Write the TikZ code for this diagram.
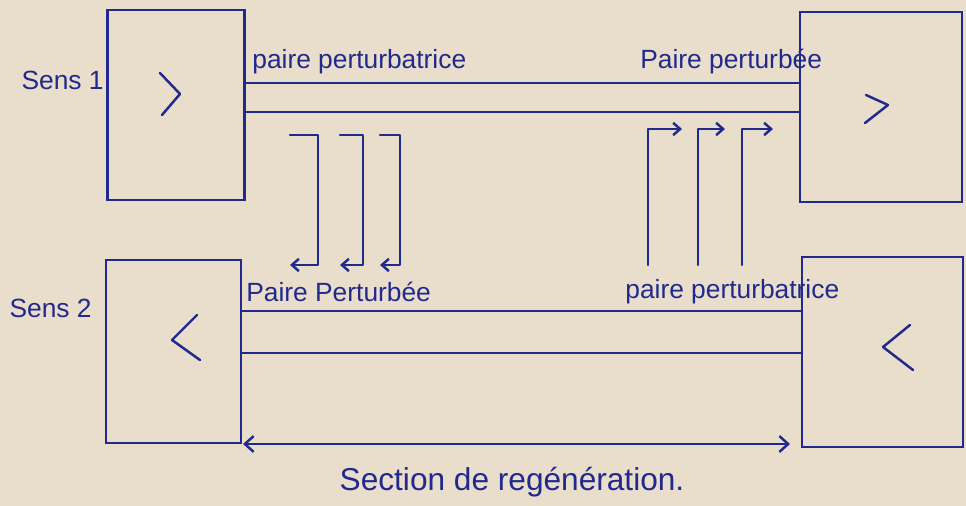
\documentclass[tikz,border=0pt]{standalone}
\usepackage{fontspec}
\setmainfont{Liberation Sans}
\usepackage{xcolor}
\definecolor{paper}{HTML}{E9DDCC}
\definecolor{ink}{HTML}{212A8C}
\usepackage{tikz}
\usetikzlibrary{arrows.meta, positioning, calc}

\begin{document}
\begin{tikzpicture}[
    x=0.02cm, y=-0.02cm,
    rep/.style={rectangle, draw=ink, line width=1.4pt, inner sep=0pt, outer sep=0pt,
        minimum height=3.8cm},
    lbl/.style={text=ink, font=\fontsize{15}{17}\selectfont, inner sep=0pt},
    pen/.style={draw=ink, line width=1.4pt, line cap=round, line join=round},
    arr/.style={pen, -{Straight Barb[length=4pt, width=7pt]}},
]
\fill[paper] (0,0) rectangle (966,506);
\useasboundingbox (0,0) rectangle (966,506);

% repeaters
\node[rep, minimum width=2.74cm] (tl) at (176,105) {};
\node[rep, minimum width=3.24cm] (tr) at (881,107) {};
\node[rep, minimum width=2.70cm, minimum height=3.66cm] (bl) at (173.5,351.5) {};
\node[rep, minimum width=3.22cm] (br) at (882.5,352) {};

\draw[pen] (160,73) -- (180,94) -- (162,115);
\draw[pen] (866,95) -- (888,105) -- (865,123);
\draw[pen] (197,315) -- (172,340) -- (200,360);
\draw[pen] (910,325) -- (883,347) -- (913,370);

% pairs
\coordinate (p1) at (0,83);  \coordinate (p2) at (0,112);
\coordinate (p3) at (0,311); \coordinate (p4) at (0,353);
\draw[pen] (tl.east |- p1) -- (tr.west |- p1);
\draw[pen] (tl.east |- p2) -- (tr.west |- p2);
\draw[pen] (bl.east |- p3) -- (br.west |- p3);
\draw[pen] (bl.east |- p4) -- (br.west |- p4);

% crosstalk
\foreach \a/\b in {290/318, 340/363, 380/400}
    \draw[arr] (\a,135) -- (\b,135) -- (\b,265) -- (\a,265);
\foreach \a/\b in {648/682, 698/725, 742/773}
    \draw[arr] (\a,265) -- (\a,129) -- (\b,129);

% labels
\node[lbl, anchor=east] (s1) at (104,80) {Sens 1};
\node[lbl, anchor=east] (s2) at (92,308) {Sens 2};
\node[lbl, anchor=west] (ptl) at (252,62) {paire perturbatrice};
\node[lbl, anchor=west] (ptr) at (640,62) {Paire perturbée};
\node[lbl, anchor=west] (pbl) at (246,292) {Paire Perturbée};
\node[lbl, anchor=west] (pbr) at (625,292) {paire perturbatrice};

% section
\coordinate (sa) at (243,444);
\coordinate (sb) at (790,444);
\draw[pen, {Straight Barb[length=5pt, width=9pt]}-{Straight Barb[length=5pt, width=9pt]}] (sa) -- (sb);
\node[lbl, font=\fontsize{18}{20}\selectfont] (sec) at (512,482) {Section de regénération.};
\end{tikzpicture}
\end{document}
